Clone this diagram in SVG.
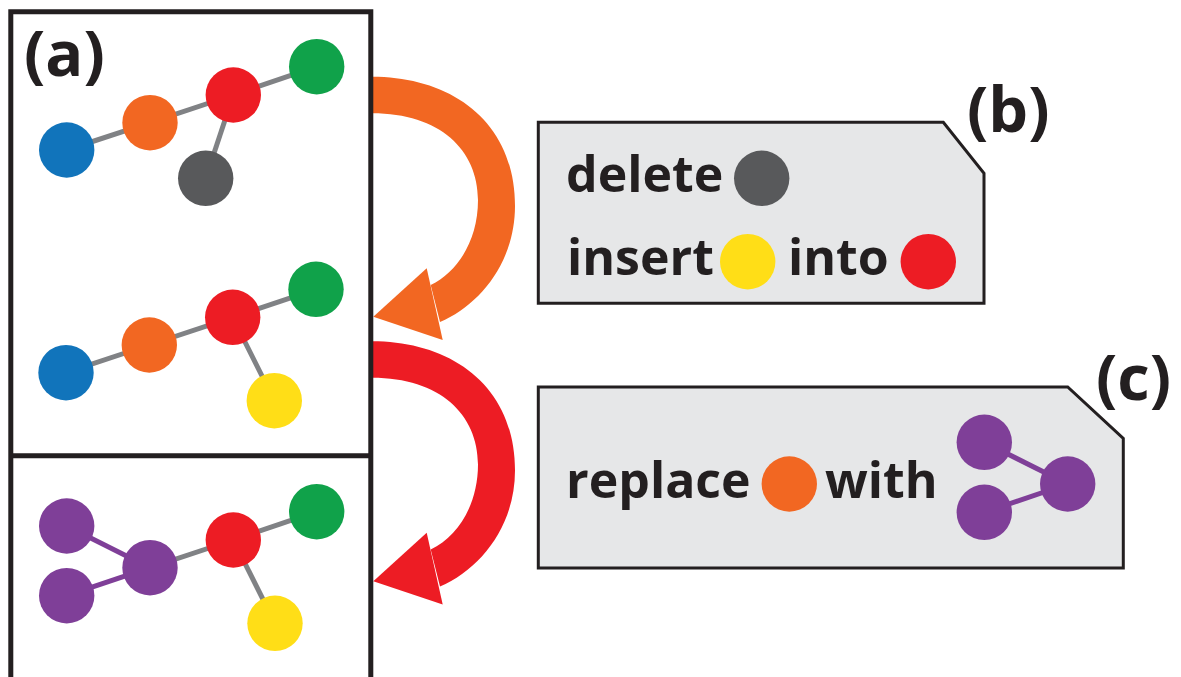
<svg xmlns="http://www.w3.org/2000/svg" xmlns:xlink="http://www.w3.org/1999/xlink" width="1181" height="677" viewBox="0 0 1181 677">
<style>
.lbl{font-family:"Open Sans","Liberation Sans",sans-serif;font-weight:700;fill:#231F20}
.big{font-size:63px}
.txt{font-size:50px}
.edge{stroke:#808285;stroke-width:5;fill:none}
.pedge{stroke:#7F3F98;stroke-width:5;fill:none}
.box{fill:#E6E7E8;stroke:#231F20;stroke-width:3}
.panel{fill:none;stroke:#231F20;stroke-width:5}
.blue{fill:#1174BB}.orange{fill:#F26722}.red{fill:#ED1C24}.green{fill:#10A24A}.gray{fill:#58595B}.yellow{fill:#FFDE17}.purple{fill:#7F3F98}
</style>
<defs>
<g id="arrowShape">
<path d="M372,76.7 C450,76.7 515,120 515,206 C515,262 480,305 440,322 L430.7,285 C458,272 478,240 478,200 C478,150 440,113.3 372,113.3 Z"/>
<polygon points="426.7,268.3 373.3,316.7 442.7,340"/>
</g>
</defs>
<rect width="1181" height="677" fill="#fff"/>
<g id="connectors">
<use xlink:href="#arrowShape" href="#arrowShape" fill="#F26722"/>
<use xlink:href="#arrowShape" href="#arrowShape" fill="#ED1C24" transform="translate(0,264.5)"/>
<line class="edge" x1="66.7" y1="150" x2="150" y2="122.7"/>
<line class="edge" x1="150" y1="122.7" x2="233.3" y2="95"/>
<line class="edge" x1="233.3" y1="95" x2="316.7" y2="66.7"/>
<line class="edge" x1="233.3" y1="95" x2="205.7" y2="178.3"/>
<line class="edge" x1="66" y1="372.7" x2="149.3" y2="345"/>
<line class="edge" x1="149.3" y1="345" x2="232.7" y2="317.3"/>
<line class="edge" x1="232.7" y1="317.3" x2="316" y2="289.3"/>
<line class="edge" x1="232.7" y1="317.3" x2="274.3" y2="400.7"/>
<line class="pedge" x1="66.7" y1="526" x2="150" y2="567.7"/>
<line class="pedge" x1="66.7" y1="595.7" x2="150" y2="567.7"/>
<line class="edge" x1="150" y1="567.7" x2="233.3" y2="540"/>
<line class="edge" x1="233.3" y1="540" x2="316.7" y2="511.7"/>
<line class="edge" x1="233.3" y1="540" x2="275" y2="623.3"/>
</g>
<g id="panel-a">
<path class="panel" d="M10.8,690 V11.7 H370.8 V690 M10.8,455.8 H370.8"/>
<text class="lbl big" x="24" y="76">(a)</text>
</g>
<g id="graph-1">
<circle id="n1-blue" class="blue" cx="66.7" cy="150" r="27.7"/>
<circle id="n1-orange" class="orange" cx="150" cy="122.7" r="27.7"/>
<circle id="n1-red" class="red" cx="233.3" cy="95" r="27.7"/>
<circle id="n1-green" class="green" cx="316.7" cy="66.7" r="27.7"/>
<circle id="n1-gray" class="gray" cx="205.7" cy="178.3" r="27.7"/>
</g>
<g id="graph-2">
<circle id="n2-blue" class="blue" cx="66" cy="372.7" r="27.7"/>
<circle id="n2-orange" class="orange" cx="149.3" cy="345" r="27.7"/>
<circle id="n2-red" class="red" cx="232.7" cy="317.3" r="27.7"/>
<circle id="n2-green" class="green" cx="316" cy="289.3" r="27.7"/>
<circle id="n2-yellow" class="yellow" cx="274.3" cy="400.7" r="27.7"/>
</g>
<g id="graph-3">
<circle id="n3-purple1" class="purple" cx="66.7" cy="526" r="27.7"/>
<circle id="n3-purple2" class="purple" cx="66.7" cy="595.7" r="27.7"/>
<circle id="n3-purple3" class="purple" cx="150" cy="567.7" r="27.7"/>
<circle id="n3-red" class="red" cx="233.3" cy="540" r="27.7"/>
<circle id="n3-green" class="green" cx="316.7" cy="511.7" r="27.7"/>
<circle id="n3-yellow" class="yellow" cx="275" cy="623.3" r="27.7"/>
</g>
<g id="box-b">
<path class="box" d="M538.3,122.3 H943.3 L984,173.3 V303.3 H538.3 Z"/>
<text class="lbl txt" x="566" y="191.7">delete</text>
<circle class="gray" cx="761.7" cy="178.3" r="27.7"/>
<text class="lbl txt" x="567" y="275">insert</text>
<circle class="yellow" cx="747.7" cy="261.7" r="27.7"/>
<text class="lbl txt" x="788" y="275">into</text>
<circle class="red" cx="928.3" cy="261.7" r="27.7"/>
<text class="lbl big" x="967" y="131.5">(b)</text>
</g>
<g id="box-c">
<path class="box" d="M538.3,387 H1067.7 L1123.3,438.3 V568 H538.3 Z"/>
<text class="lbl txt" x="566" y="498.3">replace</text>
<circle class="orange" cx="789.3" cy="484" r="27.7"/>
<text class="lbl txt" x="825" y="498.3">with</text>
<line class="pedge" x1="984.3" y1="442.3" x2="1067.7" y2="484"/>
<line class="pedge" x1="984.3" y1="512.3" x2="1067.7" y2="484"/>
<circle class="purple" cx="984.3" cy="442.3" r="27.7"/>
<circle class="purple" cx="984.3" cy="512.3" r="27.7"/>
<circle class="purple" cx="1067.7" cy="484" r="27.7"/>
<text class="lbl big" x="1096" y="400">(c)</text>
</g>
</svg>
